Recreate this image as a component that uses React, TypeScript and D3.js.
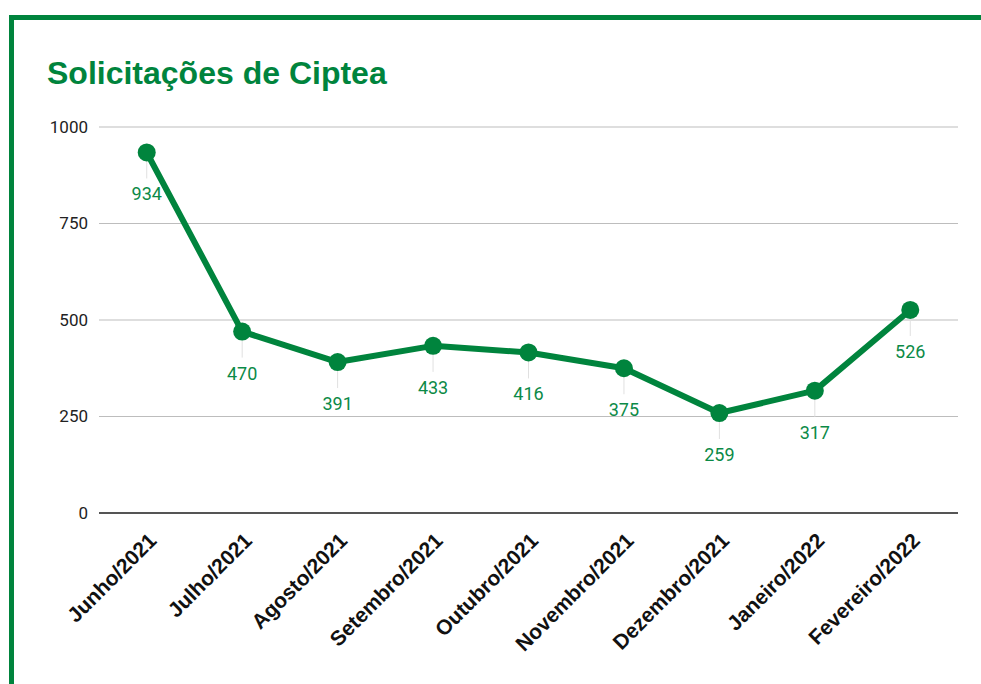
import React from "react";
import * as d3 from "d3";

const months = [
  "Junho/2021",
  "Julho/2021",
  "Agosto/2021",
  "Setembro/2021",
  "Outubro/2021",
  "Novembro/2021",
  "Dezembro/2021",
  "Janeiro/2022",
  "Fevereiro/2022",
];
const requests = [934, 470, 391, 433, 416, 375, 259, 317, 526];
const yTicks = [0, 250, 500, 750, 1000];

const green = "#00843d";

const App = () => {
  const width = 981;
  const height = 684;
  const margin = { top: 127, right: 23, bottom: 171, left: 99 };

  const x = d3
    .scalePoint<string>()
    .domain(months)
    .range([margin.left, width - margin.right])
    .padding(0.5);

  const y = d3
    .scaleLinear()
    .domain([0, 1000])
    .range([height - margin.bottom, margin.top]);

  const line = d3
    .line<number>()
    .x((d, i) => x(months[i])!)
    .y((d) => y(d));

  return (
    <svg
      width={width}
      height={height}
      style={{ position: "absolute", left: 0, top: 0, background: "#fff" }}
    >
      {/* card border */}
      <rect x={11.5} y={17.5} width={1100} height={800} fill="none" stroke={green} strokeWidth={5} />

      <text
        x={47}
        y={84}
        fill={green}
        fontFamily="'Liberation Sans', Arial, sans-serif"
        fontWeight="bold"
        fontSize={32}
      >
        Solicitações de Ciptea
      </text>

      {/* grid */}
      {yTicks.map((t) => (
        <g key={t}>
          {t > 0 && (
            <line
              x1={margin.left}
              x2={width - margin.right}
              y1={y(t)}
              y2={y(t)}
              stroke="#bdbdbd"
              strokeWidth={1}
            />
          )}
          <text
            x={88}
            y={y(t)}
            dy="0.35em"
            textAnchor="end"
            fontFamily="Roboto, sans-serif"
            fontSize={17}
            fill="#222"
          >
            {t}
          </text>
        </g>
      ))}
      <line
        x1={margin.left}
        x2={width - margin.right}
        y1={y(0)}
        y2={y(0)}
        stroke="#555"
        strokeWidth={2}
      />

      {/* leader lines */}
      {requests.map((v, i) => (
        <line
          key={"l" + i}
          x1={x(months[i])}
          x2={x(months[i])}
          y1={y(v)}
          y2={y(v) + 26}
          stroke="#e0e0e0"
          strokeWidth={1}
        />
      ))}

      <path d={line(requests)!} fill="none" stroke={green} strokeWidth={6} strokeLinejoin="round" />

      {requests.map((v, i) => (
        <circle key={"c" + i} cx={x(months[i])} cy={y(v)} r={9} fill={green} />
      ))}

      {requests.map((v, i) => (
        <text
          key={"v" + i}
          x={x(months[i])}
          y={y(v) + 48}
          textAnchor="middle"
          fontFamily="Roboto, sans-serif"
          fontSize={18}
          fill="#0b8a47"
        >
          {v}
        </text>
      ))}

      {/* x labels */}
      {months.map((m) => (
        <text
          key={m}
          transform={`translate(${x(m)! + 11},${y(0) + 29}) rotate(-45)`}
          textAnchor="end"
          fontFamily="'Liberation Sans', Arial, sans-serif"
          fontWeight="bold"
          fontSize={21}
          fill="#111"
        >
          {m}
        </text>
      ))}
    </svg>
  );
};

export default App;
